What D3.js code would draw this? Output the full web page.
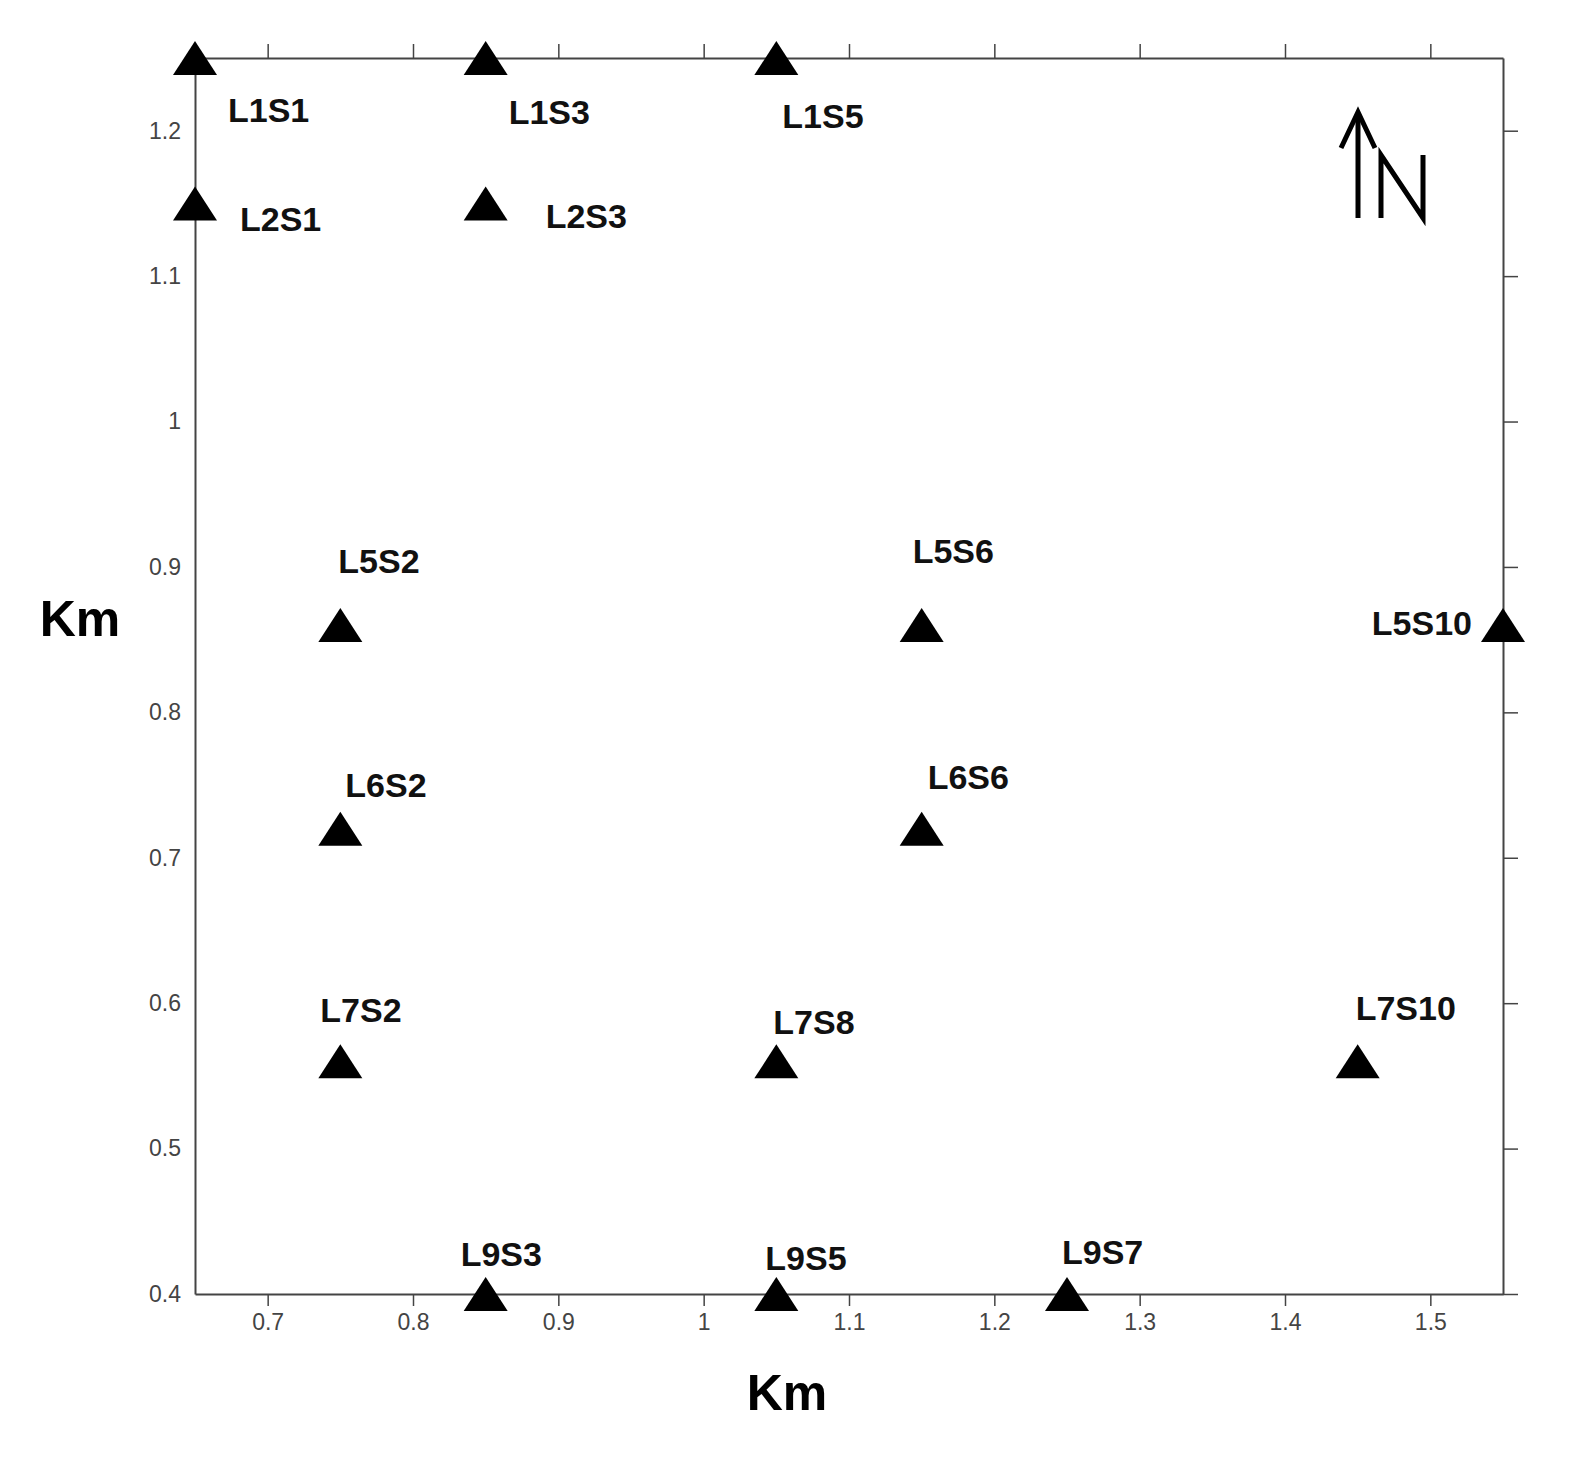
<!DOCTYPE html>
<html><head><meta charset="utf-8">
<script src="https://cdn.jsdelivr.net/npm/d3@7"></script>
<style>body{margin:0;background:#fff}</style></head>
<body><svg id="c" width="1584" height="1466"></svg>
<script>
const names = ["L1S1","L1S3","L1S5","L2S1","L2S3","L5S2","L5S6","L5S10","L6S2","L6S6","L7S2","L7S8","L7S10","L9S3","L9S5","L9S7"];
const xs = [0.65,0.85,1.05,0.65,0.85,0.75,1.15,1.55,0.75,1.15,0.75,1.05,1.45,0.85,1.05,1.25];
const ys = [1.25,1.25,1.25,1.15,1.15,0.86,0.86,0.86,0.72,0.72,0.56,0.56,0.56,0.40,0.40,0.40];
const xTicks = [0.7,0.8,0.9,1,1.1,1.2,1.3,1.4,1.5];
const yTicks = [0.4,0.5,0.6,0.7,0.8,0.9,1,1.1,1.2];
// label placement offsets (px) relative to marker
const ldx = [33,23,6,45,60,-2,-9,-31,5,6,-20,-3,-2,-25,-11,-5];
const ldy = [64,66,70,28,25,-52,-62,10,-32,-40,-39,-27,-41,-28,-24,-30];

const svg = d3.select("#c");
const L=195,R=1503,T=58,B=1294;
const x = d3.scaleLinear().domain([0.65,1.55]).range([L,R]);
const y = d3.scaleLinear().domain([0.4,1.25]).range([B,T]);

const fmt = d => String(d);
const styleAxis = g => { g.select(".domain").attr("stroke","#444").attr("stroke-width",2);
  g.selectAll(".tick line").attr("stroke","#444").attr("stroke-width",1.5);
  g.selectAll("text").attr("fill","#444").style("font-family","Liberation Sans, Arial").style("font-size","23px"); };
svg.append("g").attr("transform",`translate(0,${B})`).call(d3.axisBottom(x).tickValues(xTicks).tickFormat(fmt).tickSize(12).tickSizeOuter(0).tickPadding(8)).call(styleAxis);
svg.append("g").attr("transform",`translate(0,${T})`).call(d3.axisTop(x).tickValues(xTicks).tickFormat("").tickSize(14).tickSizeOuter(0)).call(styleAxis);
svg.append("g").attr("transform",`translate(${L},0)`).call(d3.axisLeft(y).tickValues(yTicks).tickFormat(fmt).tickSize(0).tickSizeOuter(0).tickPadding(14)).call(styleAxis);
svg.append("g").attr("transform",`translate(${R},0)`).call(d3.axisRight(y).tickValues(yTicks).tickFormat("").tickSize(15).tickSizeOuter(0)).call(styleAxis);

const tri = "M0,-17L22,17L-22,17Z";
const g = svg.append("g");
names.forEach((n,i)=>{
  const px=x(xs[i]), py=y(ys[i]);
  g.append("path").attr("d",tri).attr("transform",`translate(${px},${py})`).attr("fill","#000");
  g.append("text").attr("x",px+ldx[i]).attr("y",py+ldy[i]).text(n)
   .attr("text-anchor", n==="L5S10" ? "end":"start")
   .style("font-family","Liberation Sans, Arial").style("font-weight","bold").style("font-size","34px").attr("fill","#111");
});

svg.append("text").attr("x",787).attr("y",1410).attr("text-anchor","middle").text("Km")
  .style("font-family","Liberation Sans, Arial").style("font-weight","bold").style("font-size","50px");
svg.append("text").attr("x",80).attr("y",636).attr("text-anchor","middle").text("Km")
  .style("font-family","Liberation Sans, Arial").style("font-weight","bold").style("font-size","50px");

// North arrow
const na = svg.append("g").attr("stroke","#000").attr("stroke-width",5).attr("fill","none");
na.append("line").attr("x1",1358).attr("y1",218).attr("x2",1358).attr("y2",114);
na.append("polyline").attr("points","1341,148 1358,112 1375,148");
na.append("polyline").attr("points","1381,218 1381,155 1423,218 1423,155");
</script></body></html>
